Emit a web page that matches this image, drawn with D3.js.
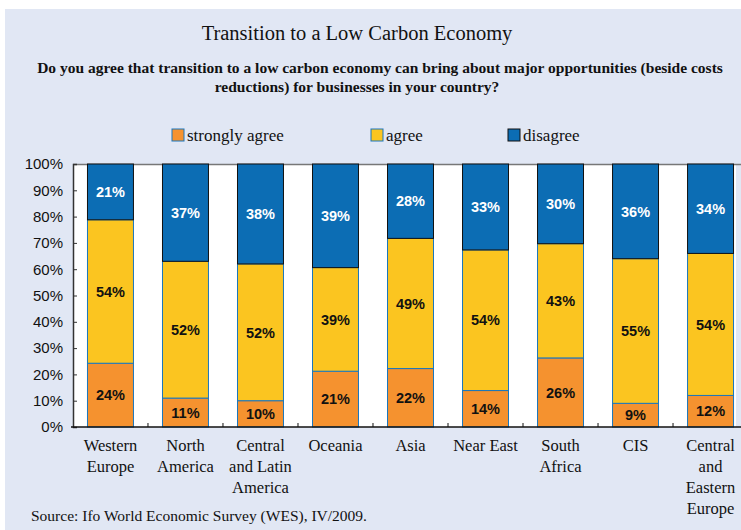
<!DOCTYPE html>
<html>
<head>
<meta charset="utf-8">
<script src="https://cdn.jsdelivr.net/npm/d3@7"></script>
<style>
  body { margin: 0; background: #fff; }
  svg { display: block; }
</style>
</head>
<body>
<script>
// Survey data (percent of answers)
const regions = [
  ["Western", "Europe"],
  ["North", "America"],
  ["Central", "and Latin", "America"],
  ["Oceania"],
  ["Asia"],
  ["Near East"],
  ["South", "Africa"],
  ["CIS"],
  ["Central", "and", "Eastern", "Europe"]
];
const stronglyAgree = [24, 11, 10, 21, 22, 14, 26, 9, 12];
const agree = [54, 52, 52, 39, 49, 54, 43, 55, 54];
const disagree = [21, 37, 38, 39, 28, 33, 30, 36, 34];
const seriesKeys = ["strongly agree", "agree", "disagree"];
const yTicks = [0, 10, 20, 30, 40, 50, 60, 70, 80, 90, 100];

const W = 741, H = 530;
const colors = { "strongly agree": "#f5922f", "agree": "#fbc520", "disagree": "#0c6db4" };
const strokes = { "strongly agree": "#1a76bd", "agree": "#1a76bd", "disagree": "#111" };
const labelFill = { "strongly agree": "#111", "agree": "#111", "disagree": "#fff" };

const rows = regions.map((r, i) => ({
  name: r.join(" "),
  lines: r,
  "strongly agree": stronglyAgree[i],
  "agree": agree[i],
  "disagree": disagree[i]
}));

const svg = d3.select("body").append("svg")
  .attr("width", W)
  .attr("height", H);

// panel background
svg.append("rect")
  .attr("x", 5).attr("y", 9)
  .attr("width", W - 5).attr("height", H - 9)
  .attr("fill", "#e1e7f4");

// titles
svg.append("text")
  .attr("x", 357).attr("y", 40)
  .attr("text-anchor", "middle")
  .attr("font-family", "Liberation Serif, Times New Roman, serif")
  .attr("font-size", 20.5)
  .attr("fill", "#111")
  .text("Transition to a Low Carbon Economy");

const sub = svg.append("text")
  .attr("text-anchor", "middle")
  .attr("font-family", "Liberation Serif, Times New Roman, serif")
  .attr("font-weight", "bold")
  .attr("font-size", 15.5)
  .attr("fill", "#111");
sub.append("tspan").attr("x", 380).attr("y", 73)
  .text("Do you agree that transition to a low carbon economy can bring about major opportunities (beside costs");
sub.append("tspan").attr("x", 357).attr("y", 92)
  .text("reductions) for businesses in your country?");

// legend
const legendX = [172, 371, 508];
const legend = svg.append("g").selectAll("g")
  .data(seriesKeys)
  .join("g")
  .attr("transform", (d, i) => `translate(${legendX[i]},129)`);
legend.append("rect")
  .attr("width", 12).attr("height", 12)
  .attr("fill", d => colors[d])
  .attr("stroke", d => strokes[d]);
legend.append("text")
  .attr("x", 15).attr("y", 12)
  .attr("font-family", "Liberation Serif, Times New Roman, serif")
  .attr("font-size", 17)
  .attr("fill", "#111")
  .text(d => d);

// plot area
const margin = { left: 73, top: 164, bottom: 427 };
const x = d3.scaleBand()
  .domain(rows.map(d => d.name))
  .range([margin.left, margin.left + 75 * rows.length])
  .paddingInner(0.387)
  .paddingOuter(0.193);
const y = d3.scaleLinear().domain([0, 1]).range([margin.bottom, margin.top]);

svg.append("rect")
  .attr("x", margin.left).attr("y", margin.top)
  .attr("width", 736 - margin.left).attr("height", margin.bottom - margin.top)
  .attr("fill", "#fff");

svg.append("line")
  .attr("x1", margin.left).attr("x2", W)
  .attr("y1", margin.top + 0.5).attr("y2", margin.top + 0.5)
  .attr("stroke", "#777").attr("stroke-width", 1.5);

const stack = d3.stack().keys(seriesKeys).offset(d3.stackOffsetExpand);
const series = stack(rows);

const layers = svg.append("g").selectAll("g")
  .data(series)
  .join("g")
  .attr("fill", d => colors[d.key])
  .attr("stroke", d => strokes[d.key]);

layers.selectAll("rect")
  .data(d => d.map(v => Object.assign(v, { key: d.key })))
  .join("rect")
  .attr("x", d => x(d.data.name))
  .attr("width", x.bandwidth())
  .attr("y", d => y(d[1]))
  .attr("height", d => y(d[0]) - y(d[1]))
  .attr("stroke-width", 1);

layers.selectAll("text")
  .data(d => d)
  .join("text")
  .attr("x", d => x(d.data.name) + x.bandwidth() / 2)
  .attr("y", d => (y(d[0]) + y(d[1])) / 2)
  .attr("dy", "0.36em")
  .attr("text-anchor", "middle")
  .attr("stroke", "none")
  .attr("fill", d => labelFill[d.key])
  .attr("font-family", "Liberation Sans, Arial, sans-serif")
  .attr("font-weight", "bold")
  .attr("font-size", 14.5)
  .text(d => d.data[d.key] + "%");

// y axis
const yAxis = svg.append("g")
  .attr("transform", `translate(${margin.left},0)`)
  .call(d3.axisLeft(y).tickValues(yTicks.map(v => v / 100))
    .tickFormat(d => Math.round(d * 100) + "%")
    .tickSize(-4).tickPadding(10));
yAxis.select(".domain").attr("stroke", "#333").attr("stroke-width", 1.5);
yAxis.selectAll(".tick line").attr("stroke", "#333");
yAxis.selectAll(".tick text")
  .attr("font-family", "Liberation Sans, Arial, sans-serif")
  .attr("font-size", 15)
  .attr("fill", "#111");

// x axis: ticks sit between the bars, pointing up
const xAxisG = svg.append("g");
xAxisG.append("line")
  .attr("x1", margin.left - 2).attr("x2", W)
  .attr("y1", margin.bottom).attr("y2", margin.bottom)
  .attr("stroke", "#111").attr("stroke-width", 1.5);
xAxisG.selectAll("line.tk")
  .data(rows.slice(1))
  .join("line")
  .attr("class", "tk")
  .attr("x1", d => x(d.name) - x.step() * x.paddingInner() / 2)
  .attr("x2", d => x(d.name) - x.step() * x.paddingInner() / 2)
  .attr("y1", margin.bottom).attr("y2", margin.bottom - 4)
  .attr("stroke", "#111");

const catLabels = xAxisG.selectAll("text.cat")
  .data(rows)
  .join("text")
  .attr("class", "cat")
  .attr("text-anchor", "middle")
  .attr("font-family", "Liberation Serif, Times New Roman, serif")
  .attr("font-size", 16.5)
  .attr("fill", "#111");
catLabels.selectAll("tspan")
  .data(d => d.lines.map(l => ({ l, cx: x(d.name) + x.bandwidth() / 2 })))
  .join("tspan")
  .attr("x", d => d.cx)
  .attr("y", (d, i) => 451 + i * 21)
  .text(d => d.l);

// source
svg.append("text")
  .attr("x", 31).attr("y", 521)
  .attr("font-family", "Liberation Serif, Times New Roman, serif")
  .attr("font-size", 15.5)
  .attr("fill", "#111")
  .text("Source: Ifo World Economic Survey (WES), IV/2009.");
</script>
</body>
</html>
